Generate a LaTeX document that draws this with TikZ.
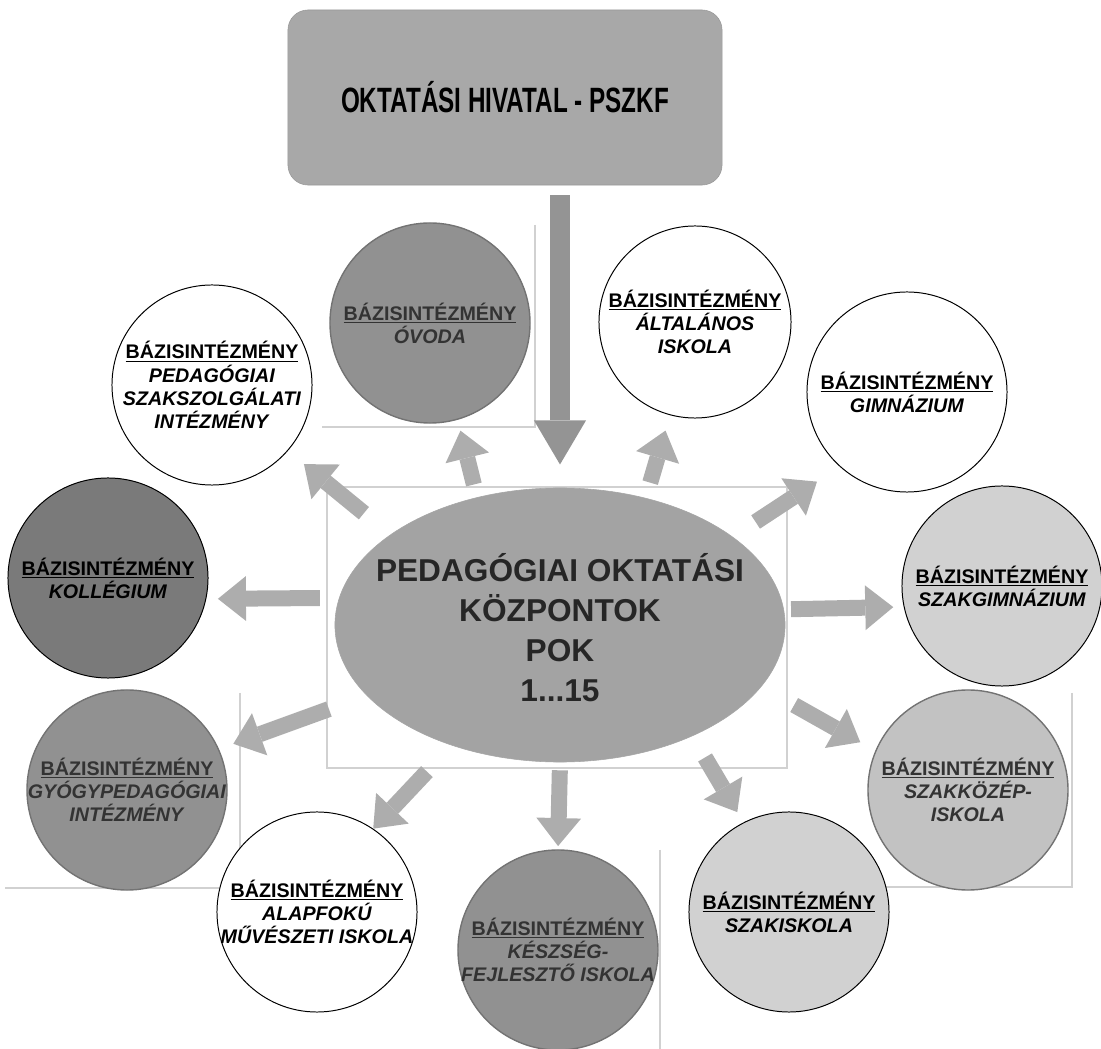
\documentclass[tikz,border=0pt]{standalone}
\usepackage{fontspec}
\setmainfont{Liberation Sans}
\newfontfamily\condsans[FakeStretch=0.69]{Liberation Sans}
\usetikzlibrary{arrows.meta,shapes.geometric}

\definecolor{boxgray}{gray}{0.66}
\definecolor{pokgray}{gray}{0.64}
\definecolor{darkgray}{gray}{0.57}
\definecolor{kollgray}{gray}{0.48}
\definecolor{midgray}{gray}{0.76}
\definecolor{lightgray}{gray}{0.82}
\definecolor{arrowgray}{gray}{0.68}

\begin{document}
\begin{tikzpicture}[x=0.025cm, y=-0.025cm,
    basis/.style={circle, minimum size=5cm, inner sep=0pt, draw=black,
        line width=0.7pt, fill=white},
    blur/.style={basis, draw=black!55, line width=1pt},
    btext/.style={align=center, font=\fontsize{14}{16.5}\selectfont\bfseries},
    blk/.style={draw=arrowgray, line width=0.4cm,
        -{Triangle[length=0.7cm,width=1.12cm,line width=0pt]}},
    frame/.style={draw=black!18, line width=1.2pt}]
\useasboundingbox (0,0) rectangle (1101,1049);

% frames of the pasted pictures
\draw[frame] (327,487) rectangle (787,768);
\draw[frame] (535,225) -- (535,427) -- (322,427);
\draw[frame] (240,693) -- (240,888) -- (5,888);
\draw[frame] (660,850) -- (660,1049);
\draw[frame] (1072,693) -- (1072,887) -- (862,887);

% top and centre
\node[draw=black!40, fill=boxgray, rounded corners=0.5cm, minimum width=10.85cm,
    minimum height=4.375cm,
    font=\condsans\fontsize{25}{30}\selectfont\bfseries] (ohiv) at (505,97.5)
    {OKTATÁSI HIVATAL - PSZKF};
\node[ellipse, draw=black!35, fill=pokgray, minimum width=11.25cm,
    minimum height=6.85cm, inner sep=0pt] (pok) at (560,625) {};
\node[align=center, text=black!85,
    font=\fontsize{22.5}{28.4}\selectfont\bfseries] (pok-t) at (560,628)
    {PEDAGÓGIAI OKTATÁSI\\KÖZPONTOK\\POK\\1...15};

% base institutions
\node[blur, fill=darkgray] (ovoda) at (430,323) {};
\node[btext, text=black!80] (ovoda-t) at (ovoda)
    {\underline{BÁZISINTÉZMÉNY}\\\textit{ÓVODA}};
\node[basis] (pszi) at (212,385) {};
\node[btext] (pszi-t) at (pszi) {\underline{BÁZISINTÉZMÉNY}\\\textit{PEDAGÓGIAI}\\
    \textit{SZAKSZOLGÁLATI}\\\textit{INTÉZMÉNY}};
\node[basis, fill=kollgray] (koll) at (108,578) {};
\node[btext] (koll-t) at (koll) {\underline{BÁZISINTÉZMÉNY}\\\textit{KOLLÉGIUM}};
\node[basis, minimum size=4.8cm] (alt) at (695,322) {};
\node[btext] (alt-t) at (alt) {\underline{BÁZISINTÉZMÉNY}\\\textit{ÁLTALÁNOS}\\
    \textit{ISKOLA}};
\node[basis] (gimn) at (907,392) {};
\node[btext] (gimn-t) at (gimn) {\underline{BÁZISINTÉZMÉNY}\\\textit{GIMNÁZIUM}};
\node[basis, fill=lightgray] (szgim) at (1002,586) {};
\node[btext] (szgim-t) at (szgim) {\underline{BÁZISINTÉZMÉNY}\\\textit{SZAKGIMNÁZIUM}};
\node[blur, fill=midgray] (szkoz) at (968,790) {};
\node[btext, text=black!80] (szkoz-t) at (szkoz)
    {\underline{BÁZISINTÉZMÉNY}\\\textit{SZAKKÖZÉP-}\\\textit{ISKOLA}};
\node[basis, fill=lightgray] (szisk) at (789,912) {};
\node[btext] (szisk-t) at (szisk) {\underline{BÁZISINTÉZMÉNY}\\\textit{SZAKISKOLA}};
\node[blur, fill=darkgray] (kesz) at (558,950) {};
\node[btext, text=black!80] (kesz-t) at (kesz)
    {\underline{BÁZISINTÉZMÉNY}\\\textit{KÉSZSÉG-}\\\textit{FEJLESZTŐ ISKOLA}};
\node[basis] (alap) at (317,912) {};
\node[btext] (alap-t) at (alap) {\underline{BÁZISINTÉZMÉNY}\\\textit{ALAPFOKÚ}\\
    \textit{MŰVÉSZETI ISKOLA}};
\node[blur, fill=darkgray] (gyogy) at (127,790) {};
\node[btext, text=black!80] (gyogy-t) at (gyogy)
    {\underline{BÁZISINTÉZMÉNY}\\\textit{GYÓGYPEDAGÓGIAI}\\\textit{INTÉZMÉNY}};

% arrows
\draw[blk, draw=black!42, line width=0.5cm,
    -{Triangle[length=1.1cm,width=1.3cm,line width=0pt]},
    shorten <=0.25cm, shorten >=0.58cm] (ohiv.south -| pok.north) -- (pok.north);
\draw[blk, shorten <=0.33cm, shorten >=0.28cm] (pok.123.7) -- (ovoda.-74.3);
\draw[blk, shorten <=0.4cm, shorten >=0.4cm] (pok.56.4) -- (alt.255.5);
\draw[blk, shorten <=0.85cm, shorten >=0.52cm] (pok.152.3) -- (pszi.-41.3);
\draw[blk, shorten <=0.48cm, shorten >=0.29cm] (pok.173.5) -- (koll.-12.7);
\draw[blk, shorten <=0.68cm, shorten >=0.68cm] (pok.27.6) -- (gimn.228.5);
\draw[blk, shorten <=0.18cm, shorten >=0.26cm] (pok.4.35) -- (szgim.192.8);
\draw[blk, shorten <=0.94cm, shorten >=0.43cm] (pok.-17.7) -- (szkoz.157.4);
\draw[blk, shorten <=0.62cm, shorten >=0.3cm] (pok.-40.3) -- (szisk.117);
\draw[blk, shorten <=0.2cm, shorten >=0.08cm] (pok.south) -- (kesz.north);
\draw[blk, shorten <=0.9cm] (pok.228.7) -- (alap.56.3);
\draw[blk, shorten <=1cm, shorten >=0.38cm] (pok.200.9) -- (gyogy.24.6);
\end{tikzpicture}
\end{document}
